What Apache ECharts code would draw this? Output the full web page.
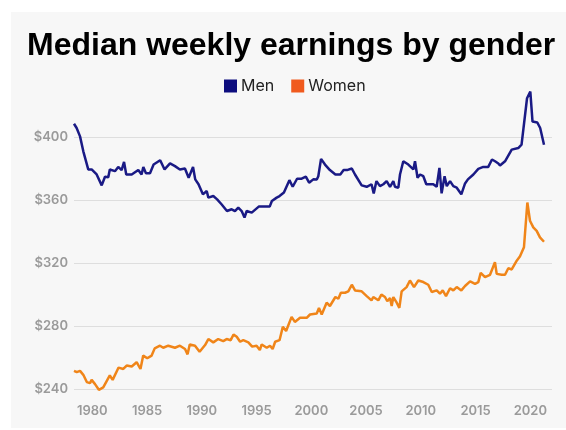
<!DOCTYPE html>
<html>
<head>
<meta charset="utf-8">
<script src="https://cdn.jsdelivr.net/npm/echarts@6/dist/echarts.min.js"></script>
<style>
  html, body { margin: 0; padding: 0; background: #ffffff; }
  #main { width: 566px; height: 430px; }
</style>
</head>
<body>
<div id="main"></div>
<script>
// decimal year, weekly earnings in dollars
var menYears = [1978.33, 1978.57, 1978.88, 1979.18, 1979.63, 1979.94, 1980.4, 1980.86, 1981.16, 1981.46,
  1981.6, 1982.07, 1982.37, 1982.68, 1982.9, 1983.1, 1983.6, 1984.2, 1984.5, 1984.66,
  1984.9, 1985.27, 1985.6, 1986.2, 1986.6, 1987.1, 1987.55, 1988.0, 1988.46, 1988.8,
  1989.2, 1989.4, 1989.7, 1990.1, 1990.45, 1990.6, 1991.05, 1991.4, 1991.8, 1992.3,
  1992.73, 1993.03, 1993.33, 1993.64, 1993.9, 1994.1, 1994.56, 1995.2, 1996.2, 1996.4,
  1996.84, 1997.1, 1997.5, 1998.0, 1998.3, 1998.7, 1999.12, 1999.5, 1999.8, 2000.18,
  2000.5, 2000.64, 2000.89, 2001.25, 2001.7, 2002.2, 2002.65, 2002.95, 2003.26, 2003.7,
  2003.99, 2004.15, 2004.6, 2005.06, 2005.5, 2005.7, 2005.95, 2006.27, 2006.58, 2006.88,
  2007.19, 2007.49, 2007.64, 2007.95, 2008.1, 2008.4, 2008.86, 2009.32, 2009.47, 2009.7,
  2009.93, 2010.23, 2010.5, 2011.14, 2011.45, 2011.7, 2011.9, 2012.17, 2012.37, 2012.67,
  2012.97, 2013.28, 2013.7, 2014.04, 2014.3, 2014.8, 2015.25, 2015.7, 2016.16, 2016.5,
  2016.78, 2017.08, 2017.23, 2017.69, 2018.3, 2018.9, 2019.2, 2019.7, 2020.0, 2020.2,
  2020.64, 2020.9, 2021.25];
var menValues = [408.4, 405.7, 400.4, 390.9, 379.4, 379.4, 376.2, 369.3, 374.8, 374.5,
  379.4, 378.3, 381, 379, 384.2, 376.2, 376.2, 379, 376.2, 381,
  377, 377, 382.5, 385.2, 379.4, 383.2, 381.5, 379.4, 380, 374.1,
  381, 373.1, 370, 363.6, 365.7, 361.5, 362.5, 360.4, 357.3, 353,
  354.1, 353, 355.2, 353, 348.9, 353, 352, 355.8, 355.8, 359.4,
  361.5, 362.5, 364.7, 372.6, 368.4, 373.5, 373.5, 374.8, 371, 373.1,
  373, 375.1, 386.1, 382.5, 379, 376.2, 376.2, 379, 379, 380,
  376.2, 376.8, 369.3, 368.4, 370, 364.2, 372, 368.8, 370, 372,
  368.4, 372, 368.4, 367.8, 376.2, 384.6, 382.5, 379.4, 384.6, 374.1,
  376.2, 375.1, 370, 370, 368.4, 380.4, 364.2, 375.1, 368.8, 372,
  368.8, 367.8, 363.6, 370.5, 373.1, 376.2, 379.8, 381, 381, 385.7,
  384.6, 383.2, 381.9, 384.6, 392, 393, 395.1, 424.6, 428.8, 409.8,
  409.2, 405.7, 395.1];

var womenYears = [1978.33, 1978.58, 1978.88, 1979.18, 1979.5, 1979.79, 1979.94, 1980.25, 1980.6, 1981.0,
  1981.6, 1981.86, 1982.4, 1982.83, 1983.14, 1983.6, 1984.05, 1984.4, 1984.65, 1985.02,
  1985.42, 1985.7, 1986.18, 1986.48, 1986.94, 1987.55, 1988.0, 1988.47, 1988.7, 1988.9,
  1989.38, 1989.8, 1990.3, 1990.6, 1991.05, 1991.5, 1991.96, 1992.27, 1992.64, 1992.9,
  1993.19, 1993.5, 1993.79, 1994.25, 1994.6, 1995.0, 1995.3, 1995.47, 1995.93, 1996.23,
  1996.47, 1996.7, 1997.1, 1997.4, 1997.7, 1998.2, 1998.5, 1998.97, 1999.58, 1999.88,
  2000.5, 2000.7, 2000.95, 2001.4, 2001.7, 2002.2, 2002.47, 2002.7, 2003.08, 2003.38,
  2003.7, 2003.99, 2004.6, 2005.06, 2005.5, 2005.66, 2006.12, 2006.4, 2006.73, 2006.94,
  2007.19, 2007.34, 2007.49, 2007.8, 2008.04, 2008.25, 2008.7, 2009.01, 2009.38, 2009.77,
  2010.23, 2010.68, 2011.0, 2011.45, 2011.75, 2012.0, 2012.3, 2012.67, 2012.97, 2013.28,
  2013.7, 2014.04, 2014.5, 2014.95, 2015.25, 2015.47, 2015.86, 2016.32, 2016.77, 2016.93,
  2017.39, 2017.69, 2017.99, 2018.3, 2018.76, 2019.06, 2019.42, 2019.73, 2019.97, 2020.27,
  2020.58, 2020.88, 2021.25];
var womenValues = [251.5, 250.7, 251.5, 249, 244.4, 243.7, 245.8, 243.1, 239.5, 241,
  248.6, 245.8, 253.6, 252.7, 254.9, 254.3, 257, 252.7, 261.2, 259.5,
  261.2, 265.8, 267.5, 266.2, 267.5, 266.2, 267.5, 265.4, 262, 268.3,
  267.5, 263.7, 267.9, 271.7, 269.6, 271.7, 270.4, 271.7, 271, 274.6,
  273.2, 270, 271, 269.6, 266.9, 267.5, 264.7, 268.3, 266.2, 267.5,
  265.4, 270, 271, 279.5, 276.8, 285.8, 282.6, 285.2, 285.2, 287.3,
  287.9, 291.5, 287.3, 294.8, 292.7, 298.4, 297.3, 301.1, 301.1, 302,
  306.2, 302.6, 302, 299, 296.3, 298.4, 296.3, 299.9, 298.4, 295.7,
  297.8, 292.7, 298.4, 294.8, 291.5, 302, 304.7, 308.9, 304.7, 308.9,
  307.9, 306.2, 301.6, 302.6, 300.5, 302.6, 299, 304, 302.6, 304.7,
  302.6, 305.4, 308.3, 306.8, 307.9, 313.7, 311, 312.5, 320.5, 313.1,
  312.5, 312.5, 316.7, 315.9, 321.5, 324.3, 330, 358.4, 346.8, 342.6,
  340.4, 336.3, 333.5];

var yearTicks = [1980, 1985, 1990, 1995, 2000, 2005, 2010, 2015, 2020];
var seriesNames = ['Men', 'Women'];

function pairs(xs, ys) {
  var out = [];
  for (var i = 0; i < xs.length; i++) {
    out.push([xs[i], ys[i]]);
  }
  return out;
}

var chart = echarts.init(document.getElementById('main'), null, { renderer: 'canvas' });

chart.setOption({
  backgroundColor: '#ffffff',
  animation: false,
  textStyle: { fontFamily: 'Inter, sans-serif' },
  graphic: [{
    type: 'rect',
    z: -10,
    silent: true,
    shape: { x: 11, y: 12, width: 555, height: 416 },
    style: { fill: '#f7f7f7' }
  }],
  title: {
    text: 'Median weekly earnings by gender',
    left: 27,
    top: 30,
    padding: 0,
    textStyle: {
      fontSize: 32,
      fontWeight: 'bold',
      color: '#000000',
      fontFamily: 'Liberation Sans, Arial, sans-serif'
    }
  },
  legend: {
    data: seriesNames,
    left: 224,
    top: 78,
    padding: 0,
    icon: 'rect',
    itemWidth: 13,
    itemHeight: 13,
    itemGap: 17,
    itemStyle: { borderWidth: 0 },
    textStyle: { fontSize: 16, color: '#222222', fontFamily: 'Inter, sans-serif', padding: [0, 0, 0, -1] }
  },
  grid: {
    left: 74,
    right: 14,
    top: 74,
    bottom: 41
  },
  xAxis: {
    type: 'value',
    min: 1978.33,
    max: 2021.98,
    axisLine: { show: false },
    axisTick: { show: false },
    splitLine: { show: false },
    axisLabel: {
      customValues: yearTicks,
      formatter: function (v) { return String(Math.round(v)); },
      color: '#9a9a9a',
      fontSize: 13,
      fontWeight: 600,
      fontFamily: 'Inter, sans-serif',
      margin: 16
    }
  },
  yAxis: {
    type: 'value',
    min: 240,
    max: 440,
    interval: 40,
    axisLine: { show: false },
    axisTick: { show: false },
    axisLabel: {
      showMaxLabel: false,
      formatter: '${value}',
      color: '#9a9a9a',
      fontSize: 13,
      fontWeight: 600,
      fontFamily: 'Inter, sans-serif',
      margin: 6
    },
    splitLine: {
      showMaxLine: false,
      lineStyle: { color: '#dedede', width: 1 }
    }
  },
  series: [
    {
      name: 'Men',
      type: 'line',
      data: pairs(menYears, menValues),
      showSymbol: false,
      clip: false,
      itemStyle: { color: '#0d0d7e' },
      lineStyle: { color: '#1a1a85', width: 2.5 }
    },
    {
      name: 'Women',
      type: 'line',
      data: pairs(womenYears, womenValues),
      showSymbol: false,
      clip: false,
      itemStyle: { color: '#f05a1e' },
      lineStyle: { color: '#f08519', width: 2.5 }
    }
  ]
});
</script>
</body>
</html>
